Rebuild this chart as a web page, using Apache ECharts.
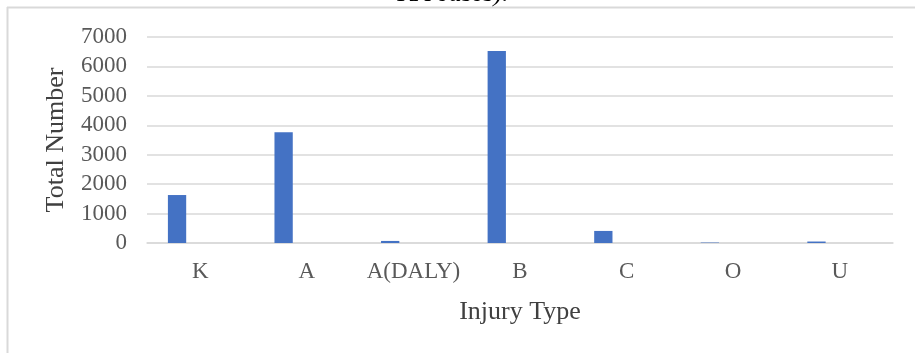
<!DOCTYPE html>
<html>
<head>
<meta charset="utf-8">
<script src="https://cdn.jsdelivr.net/npm/echarts@6/dist/echarts.min.js"></script>
<style>
html,body{margin:0;padding:0;background:#fff;}
#c{width:915px;height:353px;}
</style>
</head>
<body>
<div id="c"></div>
<script>
var categories = ['K', 'A', 'A(DALY)', 'B', 'C', 'O', 'U'];
var totals = [1630, 3760, 70, 6525, 410, 15, 50];
var series2 = [0, 0, 0, 0, 0, 0, 0];
var series3 = [0, 0, 0, 0, 0, 0, 0];
var yTicks = [0, 1000, 2000, 3000, 4000, 5000, 6000, 7000];
var titleText = 'KA cases).';
var xTitle = 'Injury Type';
var yTitle = 'Total Number';

var chart = echarts.init(document.getElementById('c'), null, {renderer: 'canvas'});
var FONT = '"Liberation Serif", "Times New Roman", serif';
var barBase = {type: 'bar', barWidth: 18.3, barGap: '27%', itemStyle: {color: '#4472C4'}, silent: true};
chart.setOption({
  animation: false,
  backgroundColor: '#ffffff',
  graphic: [
    {type: 'line', shape: {x1: 7, y1: 7.5, x2: 915, y2: 7.5}, style: {stroke: '#D9D9D9', lineWidth: 2}, silent: true},
    {type: 'line', shape: {x1: 7.5, y1: 7, x2: 7.5, y2: 353}, style: {stroke: '#D9D9D9', lineWidth: 2}, silent: true},
    {type: 'text', x: 453, y: 7, style: {text: titleText, font: 'italic 26px ' + FONT, fill: '#000000', align: 'center', verticalAlign: 'bottom'}, silent: true}
  ],
  grid: {left: 147, right: 22, top: 37, bottom: 110, containLabel: false},
  xAxis: {
    type: 'category',
    data: categories,
    axisLine: {show: true, lineStyle: {color: '#D9D9D9', width: 1.5}},
    axisTick: {show: false},
    axisLabel: {color: '#595959', fontFamily: FONT, fontSize: 23, margin: 17, interval: 0},
    name: xTitle,
    nameLocation: 'middle',
    nameGap: 56,
    nameTextStyle: {color: '#404040', fontFamily: FONT, fontSize: 26}
  },
  yAxis: {
    type: 'value',
    min: yTicks[0],
    max: yTicks[yTicks.length - 1],
    interval: 1000,
    axisLine: {show: false},
    axisTick: {show: false},
    splitLine: {lineStyle: {color: '#D9D9D9', width: 1.5}},
    axisLabel: {color: '#595959', fontFamily: FONT, fontSize: 23, margin: 20, formatter: function (v) { return String(v); }},
    name: yTitle,
    nameLocation: 'middle',
    nameGap: 78,
    nameTextStyle: {color: '#404040', fontFamily: FONT, fontSize: 26}
  },
  series: [
    Object.assign({name: 'Total', data: totals}, barBase),
    Object.assign({name: 'S2', data: series2}, barBase),
    Object.assign({name: 'S3', data: series3}, barBase)
  ]
});
</script>
</body>
</html>
